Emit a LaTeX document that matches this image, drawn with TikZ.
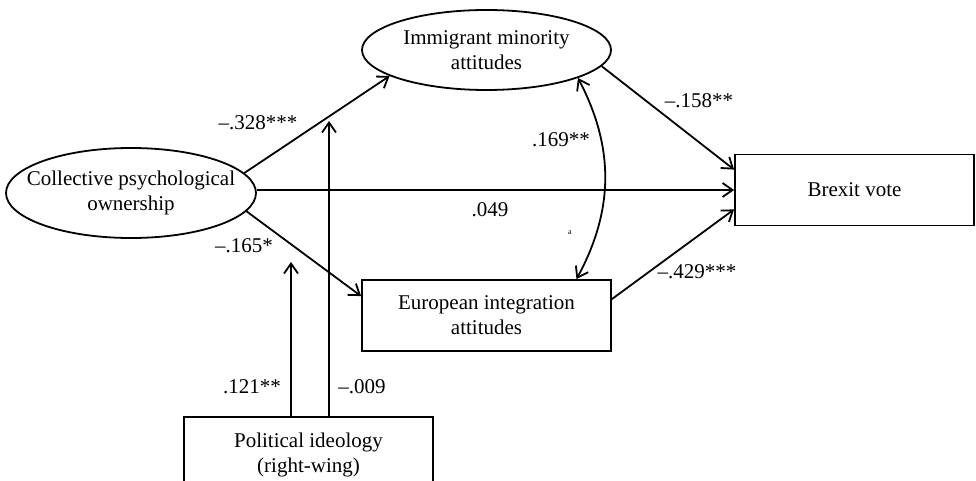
\documentclass[tikz,border=0pt]{standalone}
\usepackage{fontspec}
\setmainfont{Liberation Serif}
\usetikzlibrary{arrows.meta,shapes.geometric,calc}
\begin{document}
\begin{tikzpicture}[x=1pt,y=-1pt,
  every node/.style={font=\fontsize{21}{25}\selectfont, inner sep=0pt},
  ell/.style={draw, ellipse, line width=1.8pt, inner sep=0pt},
  boxn/.style={draw, rectangle, line width=1.8pt, align=center},
  txt/.style={align=center},
  conn/.style={line width=1.8pt, -{Straight Barb[length=10pt,width=14pt]}},
  dconn/.style={line width=1.8pt, {Straight Barb[length=10pt,width=14pt]}-{Straight Barb[length=10pt,width=14pt]}},
  plain/.style={line width=1.8pt}]
\useasboundingbox (0,0) rectangle (976,481);
\clip (0,0) rectangle (976,481);
% nodes
\node[ell, minimum width=250pt, minimum height=90pt] (col) at (131,193) {};
\node[txt] (colT) at (col.center) {Collective psychological\\ownership};
\node[ell, minimum width=249pt, minimum height=80pt] (imm) at (486.5,50) {};
\node[txt] (immT) at (imm.center) {Immigrant minority\\attitudes};
\node[boxn, minimum width=239pt, minimum height=71pt] (brx) at (854.5,190) {Brexit vote};
\node[boxn, minimum width=249pt, minimum height=71pt] (eur) at (486.5,315.5) {European integration\\attitudes};
\node[boxn, minimum width=249pt, minimum height=76pt] (pol) at (308.5,455) {Political ideology\\(right-wing)};
\coordinate (m1) at (291,262);
\coordinate (m2) at (329,121);
% connectors
\draw[conn] (col.10) -- (imm.195);
\draw[conn] (col.east |- brx.west) -- (brx.west);
\draw[conn] (col.-9) -- ([yshift=-17pt]eur.north west);
\draw[conn] (imm.-8) -- ([yshift=-16pt]brx.north west);
\draw[conn] ([yshift=-20pt]eur.north east) -- ([yshift=17pt]brx.south west);
\draw[dconn] (imm.-17) to[bend left=28] ([xshift=90pt]eur.north);
\draw[conn] (pol.north -| m1) -- (m1);
\draw[conn] (pol.north -| m2) -- (m2);
% labels
\node (l1) at (258,123) {\textendash.328***};
\node (l2) at (490,210) {.049};
\node (l3) at (244,246) {\textendash.165*};
\node (l4) at (699,101) {\textendash.158**};
\node (l5) at (697,272) {\textendash.429***};
\node (l6) at (561,140) {.169**};
\node[font=\fontsize{8}{9}\selectfont] (l7) at (570,233) {a};
\node (l8) at (252,387) {.121**};
\node (l9) at (362,387) {\textendash.009};
\end{tikzpicture}
\end{document}
